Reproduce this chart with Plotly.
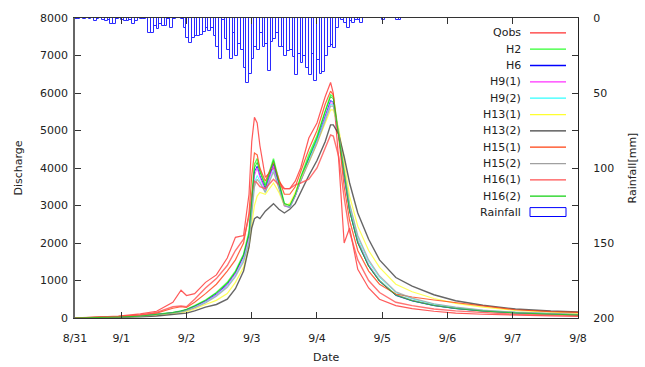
import plotly.graph_objects as go

# hours since the axis start (8/31 ~07:00)
T = [0, 8, 16, 24, 30, 36, 39, 41, 44, 48,
     52, 56, 59, 62, 64, 65, 66, 67, 68, 70,
     73, 75, 77, 79, 81, 83, 86, 89, 92, 94,
     95, 97, 99, 101, 104, 108, 112, 118, 124, 132,
     140, 150, 162, 175, 185]

Qobs = [0, 20, 50, 110, 180, 420, 740, 600, 650, 950,
        1150, 1600, 2150, 2200, 3300, 4700, 5350, 5200, 4600, 3750,
        4000, 3650, 3450, 3450, 3650, 4000, 4800, 5200, 5900, 6280,
        6000, 4200, 2000, 2400, 1300, 800, 500, 330, 250, 180,
        130, 100, 70, 55, 45]
H2 = [0, 10, 25, 50, 90, 150, 190, 230, 330, 480,
      680, 950, 1250, 1700, 2300, 3300, 4100, 4250, 3950, 3550,
      4250, 3650, 3050, 3000, 3300, 3750, 4350, 4850, 5550, 5950,
      5900, 4900, 3800, 2900, 2050, 1400, 1000, 620, 470, 340,
      260, 190, 140, 105, 85]
H6 = [0, 10, 25, 50, 85, 140, 180, 220, 310, 450,
      640, 900, 1200, 1650, 2200, 3100, 3900, 4050, 3800, 3450,
      4100, 3550, 3000, 2950, 3250, 3650, 4250, 4750, 5400, 5800,
      5750, 4850, 3750, 2850, 2000, 1380, 980, 600, 455, 330,
      250, 185, 135, 100, 80]
H9_1 = [0, 10, 25, 50, 85, 140, 175, 215, 300, 440,
        620, 880, 1180, 1600, 2150, 3000, 3800, 4000, 3750, 3400,
        4050, 3500, 2980, 2950, 3250, 3650, 4200, 4700, 5350, 5750,
        5700, 4850, 3800, 2900, 2050, 1420, 1000, 620, 470, 340,
        260, 190, 140, 105, 85]
H9_2 = [0, 8, 22, 45, 80, 130, 165, 200, 280, 420,
        600, 850, 1130, 1550, 2050, 2850, 3600, 3800, 3650, 3350,
        3950, 3450, 3000, 2950, 3250, 3650, 4200, 4700, 5300, 5700,
        5680, 4950, 3900, 3000, 2150, 1500, 1080, 680, 510, 370,
        280, 205, 150, 115, 90]
H13_1 = [0, 8, 20, 40, 70, 110, 140, 170, 240, 360,
         470, 650, 950, 1350, 1900, 2500, 3000, 3250, 3350, 3300,
         3600, 3350, 3000, 3050, 3350, 3700, 4150, 4650, 5200, 5550,
         5550, 5050, 4150, 3250, 2450, 1800, 1350, 900, 700, 520,
         390, 290, 200, 150, 120]
H13_2 = [0, 5, 15, 30, 55, 90, 110, 130, 190, 290,
         360, 500, 780, 1250, 1900, 2400, 2650, 2700, 2650, 2850,
         3050, 2900, 2800, 2900, 3050, 3350, 3800, 4200, 4700, 5150,
         5150, 4900, 4300, 3600, 2800, 2100, 1550, 1080, 850, 620,
         460, 340, 240, 185, 160]
H15_1 = [0, 15, 40, 80, 130, 260, 300, 280, 420, 650,
         900, 1250, 1550, 2000, 2800, 3800, 4400, 4350, 4000, 3650,
         4150, 3700, 3300, 3300, 3500, 3900, 4500, 5000, 5700, 6050,
         5950, 4800, 3500, 2600, 1800, 1250, 900, 640, 560, 480,
         410, 320, 220, 170, 150]
H15_2 = [0, 8, 22, 45, 80, 130, 160, 195, 270, 400,
         580, 820, 1100, 1500, 2000, 2800, 3500, 3700, 3600, 3350,
         3900, 3450, 3000, 2950, 3250, 3650, 4150, 4650, 5250, 5650,
         5650, 4950, 3950, 3050, 2200, 1550, 1120, 700, 530, 380,
         290, 210, 155, 120, 95]
H16_1 = [0, 15, 40, 80, 150, 300, 320, 300, 500, 800,
         1050, 1400, 1800, 2100, 2700, 3300, 3650, 3600, 3500, 3450,
         3700, 3550, 3450, 3450, 3550, 3600, 3700, 4000, 4500, 4880,
         4850, 4300, 3200, 2300, 1550, 1000, 680, 420, 330, 240,
         190, 140, 100, 80, 70]
H16_2 = [0, 10, 25, 50, 90, 145, 185, 225, 320, 470,
         670, 930, 1230, 1680, 2250, 3200, 4000, 4150, 3900, 3500,
         4200, 3600, 3050, 3000, 3300, 3750, 4300, 4800, 5500, 5900,
         5850, 4850, 3750, 2850, 2000, 1380, 980, 610, 460, 335,
         255, 185, 135, 100, 80]

# hourly rainfall (mm), hour index from axis start
rain = [0.5, 0.5, 0, 0.5, 0, 0.5, 0, 2, 0.5, 0,
        1.5, 2, 1, 4, 4, 0.5, 0, 1, 2, 2,
        1, 4, 2, 0, 0.5, 0.5, 0, 10, 10, 5,
        7, 4, 5.5, 5, 0.5, 6.6, 0.5, 0, 0, 0.5,
        6.6, 13, 16.5, 13, 12, 12, 11, 9, 6.6, 8.8,
        6.6, 12, 19, 27, 1, 14, 21, 27, 10, 25,
        17, 21, 33, 43, 37, 27, 19, 21, 10, 19,
        17, 35, 16, 14, 10, 19, 19, 25, 22, 21,
        26, 38, 24, 30, 25, 33, 38, 24, 42, 28,
        37, 36, 25, 19, 18, 20, 6.6, 0, 1, 3,
        6.6, 2, 3, 1, 1, 3, 0, 0, 0, 0,
        0, 0, 0, 1.5, 0, 0, 0, 0, 1, 1]
rain_hours = list(range(len(rain)))

tick_vals = [0, 17, 41, 65, 89, 113, 137, 161, 185]
tick_text = ["8/31", "9/1", "9/2", "9/3", "9/4", "9/5", "9/6", "9/7", "9/8"]

series = [
    ("Qobs", Qobs, "#ff3030", 1.2),
    ("H2", H2, "#30ff30", 1.4),
    ("H6", H6, "#0000ff", 1.0),
    ("H9(1)", H9_1, "#ff30ff", 1.0),
    ("H9(2)", H9_2, "#30ffff", 1.0),
    ("H13(1)", H13_1, "#ffff30", 1.2),
    ("H13(2)", H13_2, "#404040", 1.4),
    ("H15(1)", H15_1, "#ff4010", 1.2),
    ("H15(2)", H15_2, "#a0a0a0", 1.2),
    ("H16(1)", H16_1, "#ff5050", 1.4),
    ("H16(2)", H16_2, "#10d010", 1.0),
]

FONT = "DejaVu Sans"
fig = go.Figure()

fig.add_trace(go.Bar(x=rain_hours, y=rain, width=1, offset=0, yaxis="y2",
                     marker=dict(color="rgba(255,255,255,0)",
                                 line=dict(color="#2a2aff", width=1)),
                     showlegend=False, name="Rainfall"))

for name, vals, col, w in series:
    fig.add_trace(go.Scatter(x=T, y=vals, mode="lines", name=name,
                             line=dict(color=col, width=w), opacity=0.8,
                             showlegend=False))

L, R, TOP, BOT = 75, 578, 15, 318
def px(x):
    return (x - L) / (R - L)
def py(y):
    return (BOT - y) / (BOT - TOP)

annotations = []
shapes = []
row_y = [30, 46.5, 63, 79.5, 96, 112.5, 129, 145.5, 162, 178.5, 195, 211]
for i, (name, vals, col, w) in enumerate(series):
    yy = py(row_y[i])
    annotations.append(dict(x=px(523), y=yy, xref="paper", yref="paper", text=name,
                            showarrow=False, xanchor="right", yanchor="middle",
                            font=dict(family=FONT, size=11, color="#222")))
    shapes.append(dict(type="line", xref="paper", yref="paper", x0=px(530), x1=px(566),
                       y0=yy, y1=yy, line=dict(color=col, width=1.3)))
yy = py(row_y[-1])
annotations.append(dict(x=px(523), y=yy, xref="paper", yref="paper", text="Rainfall",
                        showarrow=False, xanchor="right", yanchor="middle",
                        font=dict(family=FONT, size=11, color="#222")))
shapes.append(dict(type="rect", xref="paper", yref="paper", x0=px(530), x1=px(566),
                   y0=py(row_y[-1] + 4.5), y1=py(row_y[-1] - 4.5),
                   line=dict(color="#0000ff", width=1)))

annotations.append(dict(x=px(18), y=py(167), xref="paper", yref="paper", text="Discharge",
                        textangle=-90, showarrow=False, xanchor="center", yanchor="middle",
                        font=dict(family=FONT, size=11, color="#222")))
annotations.append(dict(x=px(632), y=py(167), xref="paper", yref="paper", text="Rainfall[mm]",
                        textangle=-90, showarrow=False, xanchor="center", yanchor="middle",
                        font=dict(family=FONT, size=11, color="#222")))
annotations.append(dict(x=px(326), y=py(358), xref="paper", yref="paper", text="Date",
                        showarrow=False, xanchor="center", yanchor="middle",
                        font=dict(family=FONT, size=11, color="#222")))

fig.update_layout(
    width=645, height=367,
    margin=dict(l=L, r=645 - R, t=TOP, b=367 - BOT, pad=0),
    paper_bgcolor="white", plot_bgcolor="white",
    font=dict(family=FONT, size=11, color="#222"),
    showlegend=False, bargap=0,
    annotations=annotations, shapes=shapes,
    xaxis=dict(range=[0, 185], tickvals=tick_vals, ticktext=tick_text,
               ticks="inside", ticklen=6, tickcolor="#333", mirror="ticks",
               showline=True, linecolor="#333", linewidth=1, showgrid=False,
               zeroline=False, ticklabelstandoff=10),
    yaxis=dict(range=[0, 8000], tickvals=list(range(0, 8001, 1000)),
               ticks="inside", ticklen=6, tickcolor="#333",
               showline=True, linecolor="#666", linewidth=1.5, showgrid=False,
               zeroline=False, ticklabelstandoff=3),
    yaxis2=dict(range=[200, 0], overlaying="y", side="right",
                tickvals=[0, 25, 50, 75, 100, 125, 150, 175, 200],
                ticktext=["0", "", "50", "", "100", "", "150", "", "200"],
                ticks="inside", ticklen=6, tickcolor="#333",
                showline=True, linecolor="#222", linewidth=1, showgrid=False,
                zeroline=False, ticklabelstandoff=12),
)

fig.write_html("out.html")
